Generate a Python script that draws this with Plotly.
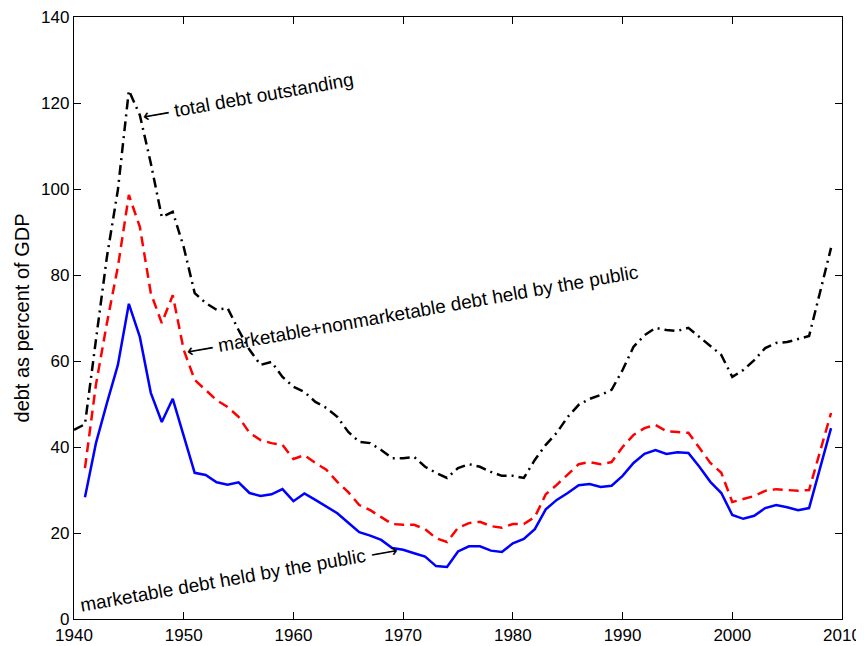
import plotly.graph_objects as go

years_public = [1941, 1942, 1943, 1944, 1945, 1946, 1947, 1948, 1949, 1950,
                1951, 1952, 1953, 1954, 1955, 1956, 1957, 1958, 1959, 1960,
                1961, 1962, 1963, 1964, 1965, 1966, 1967, 1968, 1969, 1970,
                1971, 1972, 1973, 1974, 1975, 1976, 1977, 1978, 1979, 1980,
                1981, 1982, 1983, 1984, 1985, 1986, 1987, 1988, 1989, 1990,
                1991, 1992, 1993, 1994, 1995, 1996, 1997, 1998, 1999, 2000,
                2001, 2002, 2003, 2004, 2005, 2006, 2007, 2008, 2009]
years_total = [1940] + years_public

marketable = [28.3, 40.9, 50.2, 59.1, 73.3, 65.6, 52.6, 45.8, 51.2, 42.3,
              34.0, 33.5, 31.8, 31.2, 31.8, 29.3, 28.6, 29.0, 30.2, 27.4,
              29.2, 27.7, 26.1, 24.6, 22.4, 20.2, 19.4, 18.4, 16.5, 16.1,
              15.3, 14.5, 12.3, 12.1, 15.7, 16.9, 16.9, 15.9, 15.6, 17.6,
              18.6, 20.9, 25.5, 27.7, 29.3, 31.1, 31.4, 30.7, 31.0, 33.3,
              36.3, 38.4, 39.3, 38.4, 38.8, 38.6, 35.4, 31.9, 29.3, 24.2,
              23.3, 24.0, 25.8, 26.5, 26.0, 25.3, 25.8, 35.0, 44.4]

mkt_nonmkt = [35.1, 54.5, 68.8, 81.9, 98.6, 91.2, 75.8, 68.8, 75.3, 62.6,
              55.6, 53.3, 50.9, 49.3, 47.0, 43.3, 41.6, 40.9, 40.5, 37.2,
              38.1, 36.3, 34.7, 31.9, 29.5, 26.5, 25.3, 23.7, 22.1, 21.9,
              21.9, 20.9, 18.8, 17.9, 21.2, 22.3, 22.6, 21.6, 21.2, 22.1,
              22.1, 23.7, 29.0, 31.2, 33.5, 36.0, 36.5, 36.0, 36.5, 40.0,
              42.8, 44.4, 45.1, 43.7, 43.5, 43.3, 39.8, 36.3, 34.0, 27.2,
              27.9, 28.6, 29.8, 30.2, 30.0, 29.8, 30.0, 39.0, 47.9]

total_debt = [44.0, 45.3, 64.9, 84.2, 99.8, 122.9, 117.2, 106.0, 93.5, 94.7, 86.5,
              75.8, 73.5, 71.9, 72.3, 67.2, 62.6, 59.1, 59.8, 56.3, 54.0,
              52.8, 50.5, 49.1, 47.0, 43.5, 41.2, 40.9, 39.3, 37.4, 37.4,
              37.7, 35.4, 34.0, 32.8, 35.1, 36.0, 35.4, 34.2, 33.3, 33.3,
              32.8, 37.0, 40.5, 43.3, 47.0, 49.8, 51.2, 52.1, 53.3, 57.9,
              63.3, 66.0, 67.7, 67.2, 67.0, 67.7, 65.6, 63.7, 61.4, 56.3,
              57.9, 60.2, 63.0, 64.2, 64.4, 65.1, 65.8, 76.0, 86.3]

x_ticks = [1940, 1950, 1960, 1970, 1980, 1990, 2000, 2010]
y_ticks = [0, 20, 40, 60, 80, 100, 120, 140]

labels = ["\u27f5 total debt outstanding",
          "\u27f5 marketable+nonmarketable debt held by the public",
          "marketable debt held by the public \u27f6"]
label_x = [1955.9, 1970.8, 1955.0]
label_y = [121.2, 71.4, 9.6]

FONT = "Liberation Sans, Arial, Helvetica, sans-serif"

fig = go.Figure()
fig.add_trace(go.Scatter(x=years_total, y=total_debt, mode="lines",
                         line=dict(color="black", width=2.5, dash="10px,5px,2px,5px"),
                         showlegend=False))
fig.add_trace(go.Scatter(x=years_public, y=mkt_nonmkt, mode="lines",
                         line=dict(color="#ff0000", width=2.5, dash="10px,6px"),
                         showlegend=False))
fig.add_trace(go.Scatter(x=years_public, y=marketable, mode="lines",
                         line=dict(color="#0000ff", width=2.5),
                         showlegend=False))

for t, xx, yy in zip(labels, label_x, label_y):
    fig.add_annotation(x=xx, y=yy, text=t, showarrow=False, textangle=-10,
                       xanchor="center", yanchor="middle",
                       font=dict(family=FONT, size=19, color="black"))

axis_common = dict(showline=True, linecolor="black", linewidth=1.3, mirror="ticks",
                   ticks="inside", ticklen=7, tickcolor="black", tickwidth=1,
                   showgrid=False, zeroline=False, ticklabeloverflow="allow",
                   tickfont=dict(family=FONT, size=17, color="black"))

fig.update_xaxes(range=[1940, 2010], tickvals=x_ticks,
                 ticktext=[str(v) for v in x_ticks], **axis_common)
fig.update_yaxes(range=[0, 140], tickvals=y_ticks,
                 ticktext=[str(v) for v in y_ticks],
                 title=dict(text="debt as percent of GDP", standoff=6,
                            font=dict(family=FONT, size=20, color="black")),
                 **axis_common)

# page body has an 8px margin, so the figure is sized to the remaining window
fig.update_layout(width=856, height=638,
                  margin=dict(l=66, r=22, t=9, b=27, autoexpand=False),
                  paper_bgcolor="white", plot_bgcolor="white",
                  font=dict(family=FONT, color="black"))

fig.write_html("out.html")
